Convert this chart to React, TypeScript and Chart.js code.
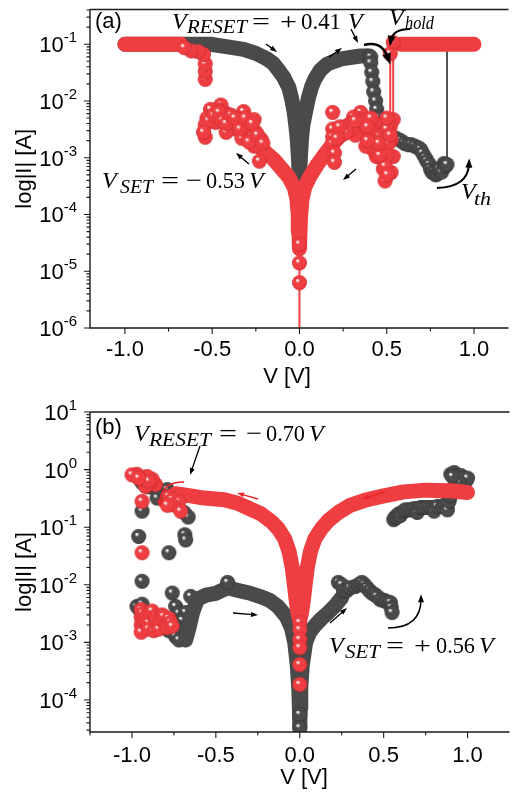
import React, { useEffect, useRef } from "react";
import { Chart, registerables } from "chart.js";
Chart.register(...registerables);

// ================= Panel (a) data (V in volts, I in amperes) =================
const aGrayBandV = [-1.0, -0.85, -0.7, -0.6, -0.51, -0.42, -0.32, -0.25, -0.19, -0.15, -0.12, -0.09, -0.06, -0.045, -0.03, -0.02, -0.012, -0.006, -0.002, 0, 0.002, 0.006, 0.012, 0.02, 0.034, 0.05, 0.07, 0.09, 0.12, 0.16, 0.2, 0.24, 0.3, 0.35, 0.39];
const aGrayBandI = [1.0e-1, 1.0e-1, 1.0e-1, 1.0e-1, 1.0e-1, 9.1e-2, 8.1e-2, 6.9e-2, 5.6e-2, 4.6e-2, 3.5e-2, 2.6e-2, 1.7e-2, 1.1e-2, 6.3e-3, 3.5e-3, 2.0e-3, 1.0e-3, 5.6e-4, 3.7e-4, 5.6e-4, 1.1e-3, 2.2e-3, 3.8e-3, 6.3e-3, 1.1e-2, 1.8e-2, 2.5e-2, 3.5e-2, 4.5e-2, 5.0e-2, 5.5e-2, 5.9e-2, 6.2e-2, 6.2e-2];
const aGrayResetV = [0.40, 0.408, 0.408, 0.414, 0.42, 0.425, 0.436, 0.442, 0.453, 0.464, 0.47, 0.48, 0.49, 0.50, 0.51, 0.52, 0.535, 0.554, 0.58, 0.60, 0.62, 0.64, 0.66, 0.68, 0.694, 0.705, 0.72, 0.73, 0.744, 0.75, 0.76, 0.77, 0.78, 0.79, 0.80, 0.815, 0.828, 0.835, 0.845];
const aGrayResetI = [6.2e-2, 5.9e-2, 4.7e-2, 3.2e-2, 2.2e-2, 1.45e-2, 1.0e-2, 7.1e-3, 5.1e-3, 3.5e-3, 3.2e-3, 2.8e-3, 2.6e-3, 2.4e-3, 2.3e-3, 2.1e-3, 2.2e-3, 2.2e-3, 2.0e-3, 1.8e-3, 1.7e-3, 1.7e-3, 1.6e-3, 1.5e-3, 1.4e-3, 1.2e-3, 1.0e-3, 8.7e-4, 7.6e-4, 6.3e-4, 5.5e-4, 5.6e-4, 5.0e-4, 5.2e-4, 6.3e-4, 5.6e-4, 7.9e-4, 7.1e-4, 7.6e-4];
const aGrayJumpV = [0.845, 0.845, 1.0];
const aGrayJumpI = [7.6e-4, 1.0e-1, 1.0e-1];

const aRedHoldBandV = [1.0, 0.8, 0.58];
const aRedHoldBandI = [1.0e-1, 1.0e-1, 1.0e-1];
const aRedHoldV = [0.537, 0.52];
const aRedHoldI = [1.07e-1, 6.8e-2];
const aRedDrop1V = [0.537, 0.537];
const aRedDrop1I = [1.0e-1, 5.0e-3];
const aRedDrop2V = [0.52, 0.52];
const aRedDrop2I = [6.8e-2, 4.0e-3];
const aRedHrsV = [0.537, 0.52, 0.525, 0.537, 0.525, 0.49, 0.48, 0.47, 0.44, 0.42, 0.40, 0.38, 0.37, 0.35, 0.33, 0.31, 0.29, 0.26, 0.24, 0.21, 0.19, 0.19, 0.19, 0.19, 0.2, 0.2, 0.25, 0.28, 0.45, 0.46, 0.5, 0.5, 0.36, 0.34, 0.32, 0.3, 0.27, 0.43, 0.41, 0.51, 0.5, 0.49, 0.505, 0.46, 0.455, 0.39, 0.36, 0.32, 0.23, 0.215, 0.52, 0.41, 0.39];
const aRedHrsI = [4.7e-3, 3.5e-3, 2.0e-3, 1.05e-3, 5.5e-4, 3.9e-4, 6.3e-4, 1.0e-3, 1.05e-3, 1.4e-3, 2.5e-3, 1.6e-3, 3.5e-3, 6.3e-3, 5.0e-3, 5.2e-3, 4.0e-3, 3.5e-3, 3.2e-3, 2.8e-3, 6.3e-3, 3.2e-3, 2.3e-3, 1.8e-3, 1.2e-3, 8.3e-4, 2.6e-3, 3.5e-3, 2.5e-3, 1.6e-3, 3.2e-3, 5.0e-3, 2.8e-3, 3.5e-3, 2.5e-3, 3.2e-3, 2.8e-3, 4.0e-3, 3.2e-3, 1.8e-3, 1.1e-3, 7.1e-4, 5.0e-4, 1.1e-3, 1.8e-3, 2.0e-3, 4.5e-3, 4.5e-3, 3.5e-3, 2.2e-3, 2.5e-3, 5.0e-3, 3.5e-3];
const aRedBandV = [0.3, 0.25, 0.2, 0.15, 0.1, 0.06, 0.03, 0.015, 0.007, 0.003, 0.001, -0.001, -0.003, -0.007, -0.015, -0.03, -0.06, -0.1, -0.15, -0.2, -0.24];
const aRedBandI = [4.0e-3, 2.8e-3, 1.9e-3, 1.2e-3, 7.4e-4, 4.7e-4, 3.0e-4, 1.9e-4, 1.0e-4, 5.0e-5, 2.5e-5, 2.5e-5, 5.0e-5, 1.0e-4, 1.9e-4, 3.0e-4, 4.5e-4, 6.3e-4, 9.5e-4, 1.3e-3, 1.7e-3];
const aRedDipV = [0, 0, 0, 0];
const aRedDipI = [3.0e-5, 1.4e-5, 6.3e-6, 1.0e-7];
const aRedNegV = [-0.23, -0.26, -0.22, -0.25, -0.28, -0.26, -0.3, -0.32, -0.35, -0.38, -0.40, -0.41, -0.43, -0.45, -0.47, -0.5, -0.51, -0.53, -0.54, -0.54, -0.36, -0.33, -0.44, -0.48, -0.42, -0.29, -0.52, -0.49, -0.46, -0.44, -0.42, -0.39, -0.37, -0.34, -0.31, -0.27, -0.24, -0.21, -0.55];
const aRedNegI = [8.7e-4, 1.6e-3, 2.1e-3, 2.8e-3, 2.5e-3, 4.7e-3, 3.5e-3, 6.5e-3, 4.7e-3, 4.0e-3, 3.2e-3, 5.8e-3, 6.3e-3, 8.5e-3, 7.1e-3, 6.3e-3, 7.1e-3, 5.0e-3, 3.8e-3, 2.3e-3, 3.2e-3, 2.2e-3, 4.5e-3, 4.2e-3, 2.8e-3, 1.9e-3, 4.5e-3, 5.6e-3, 6.3e-3, 4.5e-3, 4.0e-3, 5.6e-3, 5.0e-3, 3.2e-3, 5.0e-3, 4.0e-3, 2.5e-3, 1.8e-3, 2.8e-3];
const aRedSetV = [-0.54, -0.54, -0.54, -0.55, -0.58, -0.62, -0.66];
const aRedSetI = [2.4e-2, 3.3e-2, 4.5e-2, 6.6e-2, 7.4e-2, 7.6e-2, 8.7e-2];
const aRedCompV = [-0.68, -0.85, -1.0];
const aRedCompI = [1.0e-1, 1.0e-1, 1.0e-1];

// ================= Panel (b) data =================
const bGrayBandV = [-0.68, -0.66, -0.64, -0.61, -0.56, -0.5, -0.43, -0.36, -0.3, -0.24, -0.18, -0.13, -0.08, -0.05, -0.03, -0.015, -0.006, -0.002, 0, 0.002, 0.006, 0.015, 0.035, 0.06, 0.093, 0.13, 0.17, 0.21, 0.25];
const bGrayBandI = [1.1e-3, 1.8e-3, 3.2e-3, 5.6e-3, 6.6e-3, 7.1e-3, 8.9e-3, 7.9e-3, 7.2e-3, 6.3e-3, 5.4e-3, 4.2e-3, 2.8e-3, 1.8e-3, 1.0e-3, 4.0e-4, 1.6e-4, 7.1e-5, 3.3e-5, 7.1e-5, 1.6e-4, 4.0e-4, 1.0e-3, 1.5e-3, 2.0e-3, 2.6e-3, 3.3e-3, 4.3e-3, 6.0e-3];
const bGrayDipV = [0, 0];
const bGrayDipI = [5.6e-5, 3.3e-5];
const bGrayHrsV = [-0.43, 0.23, 0.25, 0.26, 0.28, 0.3, 0.33, 0.35, 0.37, 0.385, 0.4, 0.415, 0.43, 0.445, 0.46, 0.48, 0.5, 0.51, 0.525, 0.54, 0.545, 0.55];
const bGrayHrsI = [1.1e-2, 1.1e-2, 1.0e-2, 7.9e-3, 7.9e-3, 8.9e-3, 9.3e-3, 1.0e-2, 1.1e-2, 1.0e-2, 8.9e-3, 7.9e-3, 7.2e-3, 6.8e-3, 6.3e-3, 5.5e-3, 5.4e-3, 5.2e-3, 5.0e-3, 4.9e-3, 4.0e-3, 3.3e-3];
const bGrayLrsV = [0.56, 0.57, 0.58, 0.59, 0.6, 0.6, 0.62, 0.63, 0.65, 0.67, 0.68, 0.7, 0.7, 0.72, 0.74, 0.76, 0.78, 0.8, 0.8, 0.82, 0.85, 0.87, 0.88, 0.89, 0.9, 0.92, 0.9, 0.92, 0.93, 0.96, 0.97, 0.99, 1.0, 0.95, 0.91];
const bGrayLrsI = [1.35e-1, 1.5e-1, 1.5e-1, 1.7e-1, 1.7e-1, 1.6e-1, 1.9e-1, 2.0e-1, 2.0e-1, 2.0e-1, 2.1e-1, 2.1e-1, 1.8e-1, 2.2e-1, 2.2e-1, 2.2e-1, 2.2e-1, 2.2e-1, 1.9e-1, 2.3e-1, 2.3e-1, 2.5e-1, 2.0e-1, 2.8e-1, 3.5e-1, 5.0e-1, 8.3e-1, 8.9e-1, 7.9e-1, 7.9e-1, 7.1e-1, 6.3e-1, 7.1e-1, 6.0e-1, 7.6e-1];
const bGrayNegV = [-0.96, -0.94, -0.9, -0.86, -0.79, -0.81, -0.85, -0.94, -0.69, -0.665, -0.685, -0.68, -0.96, -0.78, -0.94, -0.76];
const bGrayNegI = [7.2e-1, 5.9e-1, 5.0e-1, 4.7e-1, 4.5e-1, 3.4e-1, 3.2e-1, 1.9e-1, 1.8e-1, 1.5e-1, 7.4e-2, 6.0e-2, 6.9e-2, 3.6e-2, 1.15e-2, 7.2e-3];
const bGrayLowV = [-0.97, -0.94, -0.95, -0.93, -0.9, -0.74, -0.72, -0.68, -0.65, -0.7, -0.71, -0.69, -0.75, -0.78, -0.8, -0.74, -0.72];
const bGrayLowI = [4.2e-3, 4.6e-3, 3.5e-3, 2.5e-3, 2.2e-3, 4.2e-3, 3.2e-3, 3.3e-3, 6.3e-3, 2.4e-3, 1.7e-3, 1.3e-3, 2.0e-3, 1.6e-3, 1.8e-3, 1.26e-3, 1.1e-3];

const bRedBandV = [1.0, 0.9, 0.75, 0.62, 0.5, 0.4, 0.3, 0.23, 0.17, 0.13, 0.09, 0.064, 0.045, 0.032, 0.02, 0.01, 0, -0.01, -0.02, -0.032, -0.045, -0.064, -0.09, -0.13, -0.17, -0.23, -0.3, -0.37, -0.45, -0.57, -0.65, -0.74];
const bRedBandI = [4.0e-1, 4.3e-1, 4.4e-1, 4.1e-1, 3.5e-1, 3.0e-1, 2.4e-1, 1.8e-1, 1.3e-1, 9.5e-2, 6.3e-2, 3.8e-2, 2.0e-2, 1.0e-2, 5.0e-3, 3.2e-3, 2.5e-3, 3.2e-3, 5.0e-3, 1.0e-2, 2.0e-2, 3.8e-2, 6.3e-2, 9.5e-2, 1.26e-1, 1.7e-1, 2.1e-1, 2.6e-1, 3.0e-1, 3.2e-1, 3.5e-1, 3.8e-1];
const bRedResetV = [-0.78, -0.76, -0.72, -0.76, -0.71, -0.79, -0.86, -0.89, -0.92, -0.88, -0.91, -0.94, -0.97, -1.0, -0.94, -0.94, -0.9, -0.96];
const bRedResetI = [3.4e-1, 3.0e-1, 2.75e-1, 2.45e-1, 1.9e-1, 2.4e-1, 5.5e-1, 5.8e-1, 5.1e-1, 6.8e-1, 7.6e-1, 6.8e-1, 8.3e-1, 8.1e-1, 2.8e-1, 3.6e-2, 6.3e-1, 7.1e-1];
const bRedLowV = [-0.945, -0.945, -0.945, -0.945, -0.935, -0.93, -0.92, -0.91, -0.9, -0.9, -0.89, -0.88, -0.87, -0.86, -0.85, -0.85, -0.84, -0.83, -0.82, -0.81, -0.8, -0.79, -0.78, -0.77, -0.76];
const bRedLowI = [3.7e-3, 2.7e-3, 2.0e-3, 1.5e-3, 3.2e-3, 2.4e-3, 2.4e-3, 3.0e-3, 2.2e-3, 1.7e-3, 3.2e-3, 3.5e-3, 1.6e-3, 2.8e-3, 2.0e-3, 2.5e-3, 1.7e-3, 2.5e-3, 3.0e-3, 2.8e-3, 2.0e-3, 1.8e-3, 2.6e-3, 2.2e-3, 1.9e-3];
const bRedDipV = [0, 0, 0, 0, 0, 0];
const bRedDipI = [2.2e-3, 1.66e-3, 1.12e-3, 8.1e-4, 4.1e-4, 1.86e-4];

// ================= Axes / ticks =================
const xMajor = [-1.0, -0.5, 0, 0.5, 1.0];
const xLabels = ["-1.0", "-0.5", "0.0", "0.5", "1.0"];
const xMinorA = [-0.75, -0.25, 0.25, 0.75];
const xMinorB = [-1.25, -0.75, -0.25, 0.25, 0.75];
const yMajorA = [1e-6, 1e-5, 1e-4, 1e-3, 1e-2, 1e-1];
const yExpA = ["-6", "-5", "-4", "-3", "-2", "-1"];
const yMajorB = [1e-4, 1e-3, 1e-2, 1e-1, 1e0, 1e1];
const yExpB = ["-4", "-3", "-2", "-1", "0", "1"];

const GRAY = "#4a4a4a";
const RED = "#ef3e42";
const RED_ARROW = "#e8262b";
const SANS = '"Liberation Sans", Arial, sans-serif';
const SERIF = '"Liberation Serif", "Times New Roman", serif';
const BALL_R = 7.5;

const pts = (V: number[], I: number[]) => V.map((v, i) => ({ x: v, y: I[i] }));

function makeSphere(base: string, dark: string, r: number) {
  const s = Math.ceil(2 * r + 2);
  const c = document.createElement("canvas");
  c.width = s;
  c.height = s;
  const g = c.getContext("2d")!;
  const cx = s / 2, cy = s / 2;
  const grad = g.createRadialGradient(cx - r * 0.3, cy - r * 0.35, 0, cx, cy, r);
  grad.addColorStop(0, "rgba(255,255,255,1)");
  grad.addColorStop(0.1, "rgba(245,245,245,0.95)");
  grad.addColorStop(0.3, base);
  grad.addColorStop(0.85, base);
  grad.addColorStop(1, dark);
  g.fillStyle = grad;
  g.beginPath();
  g.arc(cx, cy, r, 0, Math.PI * 2);
  g.fill();
  return c;
}

function band(data: any[], color: string, order: number) {
  return {
    data, showLine: true, borderColor: color, backgroundColor: color, borderWidth: 15,
    borderCapStyle: "round", borderJoinStyle: "round", pointRadius: 0, tension: 0, order,
  };
}
function balls(data: any[], img: HTMLCanvasElement, order: number) {
  return { data, showLine: false, pointStyle: img, pointRadius: BALL_R, order };
}
function thin(data: any[], color: string, order: number, img?: HTMLCanvasElement) {
  return {
    data, showLine: true, borderColor: color, borderWidth: 2, tension: 0, order,
    pointRadius: img ? BALL_R : 0, pointStyle: img || "circle",
  };
}

function head(ctx: CanvasRenderingContext2D, x: number, y: number, ang: number, L: number, W: number) {
  ctx.beginPath();
  ctx.moveTo(x, y);
  ctx.lineTo(x - L * Math.cos(ang) + (W / 2) * Math.sin(ang), y - L * Math.sin(ang) - (W / 2) * Math.cos(ang));
  ctx.lineTo(x - L * Math.cos(ang) - (W / 2) * Math.sin(ang), y - L * Math.sin(ang) + (W / 2) * Math.cos(ang));
  ctx.closePath();
  ctx.fill();
}
function arrow(ctx: CanvasRenderingContext2D, x1: number, y1: number, x2: number, y2: number, color: string, lw = 1.3, L = 7, W = 5) {
  const ang = Math.atan2(y2 - y1, x2 - x1);
  ctx.strokeStyle = color; ctx.fillStyle = color; ctx.lineWidth = lw;
  ctx.beginPath();
  ctx.moveTo(x1, y1);
  ctx.lineTo(x2 - L * 0.7 * Math.cos(ang), y2 - L * 0.7 * Math.sin(ang));
  ctx.stroke();
  head(ctx, x2, y2, ang, L, W);
}
function curve(ctx: CanvasRenderingContext2D, x1: number, y1: number, cx: number, cy: number, x2: number, y2: number, color: string, lw: number, L: number, W: number) {
  ctx.strokeStyle = color; ctx.fillStyle = color; ctx.lineWidth = lw;
  ctx.beginPath();
  ctx.moveTo(x1, y1);
  ctx.quadraticCurveTo(cx, cy, x2, y2);
  ctx.stroke();
  const ang = Math.atan2(y2 - cy, x2 - cx);
  head(ctx, x2 + L * 0.6 * Math.cos(ang), y2 + L * 0.6 * Math.sin(ang), ang, L, W);
}
function put(ctx: CanvasRenderingContext2D, text: string, x: number, y: number, font: string, w?: number) {
  ctx.font = font;
  if (w) {
    const m = ctx.measureText(text).width;
    ctx.save(); ctx.translate(x, y); ctx.scale(w / m, 1); ctx.fillText(text, 0, 0); ctx.restore();
  } else ctx.fillText(text, x, y);
}

const IT = `italic 24px ${SERIF}`;
const RM = `24px ${SERIF}`;
const SUB = `italic 18px ${SERIF}`;

type Panel = {
  offY: number; xMinor: number[]; yMajor: number[]; yExp: string[];
  xLabelDy: number; xTitleX: number; xTitleDy: number; annotate: (ctx: CanvasRenderingContext2D) => void;
};

function decoPlugin(p: Panel) {
  return {
    id: "deco",
    afterDatasetsDraw(chart: any) {
      const ctx: CanvasRenderingContext2D = chart.ctx;
      const { left, right, top, bottom } = chart.chartArea;
      const xs = chart.scales.x, ys = chart.scales.y;
      ctx.save();
      ctx.strokeStyle = "#1a1a1a";
      ctx.fillStyle = "#000";
      ctx.lineWidth = 1.4;
      ctx.beginPath();
      ctx.moveTo(left, top); ctx.lineTo(right + 2, top);
      ctx.moveTo(left, top); ctx.lineTo(left, bottom); ctx.lineTo(right + 2, bottom);
      ctx.stroke();
      ctx.lineWidth = 1.1;
      ctx.beginPath();
      xMajor.forEach((v) => { const x = xs.getPixelForValue(v); ctx.moveTo(x, bottom); ctx.lineTo(x, bottom + 6); });
      p.xMinor.forEach((v) => { const x = xs.getPixelForValue(v); ctx.moveTo(x, bottom); ctx.lineTo(x, bottom + 3.5); });
      const lo = ys.min, hi = ys.max;
      p.yMajor.forEach((v) => {
        const y = ys.getPixelForValue(v); ctx.moveTo(left, y); ctx.lineTo(left - 6, y);
        for (let m = 2; m <= 9; m++) {
          const mv = v * m;
          if (mv >= lo && mv <= hi) { const yy = ys.getPixelForValue(mv); ctx.moveTo(left, yy); ctx.lineTo(left - 3.5, yy); }
        }
      });
      for (let m = 2; m <= 9; m++) {
        const mv = (p.yMajor[0] / 10) * m;
        if (mv >= lo && mv <= hi) { const yy = ys.getPixelForValue(mv); ctx.moveTo(left, yy); ctx.lineTo(left - 3.5, yy); }
      }
      ctx.stroke();
      ctx.font = `22px ${SANS}`;
      ctx.textAlign = "center";
      ctx.textBaseline = "alphabetic";
      xMajor.forEach((v, i) => ctx.fillText(xLabels[i], xs.getPixelForValue(v), bottom + p.xLabelDy));
      ctx.textAlign = "right";
      p.yMajor.forEach((v, i) => {
        const y = ys.getPixelForValue(v);
        ctx.font = `15px ${SANS}`;
        const ew = ctx.measureText(p.yExp[i]).width;
        ctx.fillText(p.yExp[i], 77, y - 2);
        ctx.font = `22px ${SANS}`;
        ctx.fillText("10", 77 - ew, y + 8);
      });
      ctx.textAlign = "center";
      ctx.font = `22px ${SANS}`;
      ctx.fillText("V [V]", p.xTitleX, bottom + p.xTitleDy);
      ctx.save();
      ctx.translate(31, (top + bottom) / 2);
      ctx.rotate(-Math.PI / 2);
      ctx.fillText("log|I| [A]", 0, 0);
      ctx.restore();
      ctx.translate(0, -p.offY);
      ctx.textAlign = "left";
      p.annotate(ctx);
      ctx.restore();
    },
  };
}

function annotateA(ctx: CanvasRenderingContext2D) {
  ctx.fillStyle = "#000";
  put(ctx, "(a)", 95, 28, `22px ${SANS}`);
  put(ctx, "V", 172, 29, IT);
  put(ctx, "RESET", 187, 33, SUB, 60);
  put(ctx, "=", 252, 29, RM, 18);
  put(ctx, "+", 280, 29, RM, 17);
  put(ctx, "0.41", 301, 29, RM, 40);
  put(ctx, "V", 348, 29, IT);
  put(ctx, "V", 389, 25, IT);
  put(ctx, "hold", 405, 29, SUB, 29);
  put(ctx, "V", 102, 188, IT);
  put(ctx, "SET", 120, 193, SUB, 33);
  put(ctx, "=", 161, 188, RM, 18);
  put(ctx, "\u2212", 186, 188, RM, 16);
  put(ctx, "0.53", 206, 188, RM, 39);
  put(ctx, "V", 249, 188, IT);
  put(ctx, "V", 461, 199, IT);
  put(ctx, "th", 474, 205, SUB, 17);
  arrow(ctx, 266, 44, 277, 52, "#000");
  arrow(ctx, 329, 57, 342, 48, "#000");
  arrow(ctx, 351, 29, 358, 43, "#000");
  curve(ctx, 364, 45, 382, 40, 388, 58, "#000", 2.4, 11, 9);
  curve(ctx, 410, 29, 393, 29, 391, 40, "#000", 2.2, 10, 8);
  arrow(ctx, 249, 164, 236, 153, "#000");
  arrow(ctx, 356, 169, 343, 180, "#000");
  curve(ctx, 437, 188, 468, 187, 469, 164, "#000", 2, 9, 7);
}

function annotateB(ctx: CanvasRenderingContext2D) {
  ctx.fillStyle = "#000";
  put(ctx, "(b)", 95, 434, `22px ${SANS}`);
  put(ctx, "V", 134, 441, IT);
  put(ctx, "RESET", 149, 446, SUB, 62);
  put(ctx, "=", 219, 441, RM, 18);
  put(ctx, "\u2212", 246, 441, RM, 16);
  put(ctx, "0.70", 266, 441, RM, 39);
  put(ctx, "V", 309, 441, IT);
  put(ctx, "V", 329, 653, IT);
  put(ctx, "SET", 345, 658, SUB, 35);
  put(ctx, "=", 386, 653, RM, 18);
  put(ctx, "+", 414, 653, RM, 17);
  put(ctx, "0.56", 436, 653, RM, 39);
  put(ctx, "V", 479, 653, IT);
  arrow(ctx, 200, 446, 190, 475, "#000");
  curve(ctx, 184, 482, 160, 482, 160, 503, RED_ARROW, 1.5, 8, 6);
  arrow(ctx, 258, 499, 237, 493, RED_ARROW, 1.5);
  arrow(ctx, 385, 492, 362, 499, RED_ARROW, 1.5);
  arrow(ctx, 233, 613, 258, 615, "#000");
  arrow(ctx, 330, 623, 347, 608, "#000");
  curve(ctx, 388, 628, 421, 628, 421, 599, "#000", 1.5, 8, 6);
}

function baseOptions(xmin: number, xmax: number, ymin: number, ymax: number, pad: any) {
  return {
    responsive: false, animation: false as const, devicePixelRatio: 1, events: [] as any[],
    layout: { padding: pad },
    plugins: { legend: { display: false }, tooltip: { enabled: false } },
    scales: {
      x: { type: "linear" as const, min: xmin, max: xmax, display: false },
      y: { type: "logarithmic" as const, min: ymin, max: ymax, display: false },
    },
  };
}

export default function App() {
  const refA = useRef<HTMLCanvasElement>(null);
  const refB = useRef<HTMLCanvasElement>(null);
  useEffect(() => {
    const gBall = makeSphere(GRAY, "#2c2c2c", BALL_R);
    const rBall = makeSphere(RED, "#c8282c", BALL_R);
    const chartA = new Chart(refA.current!, {
      type: "scatter",
      data: {
        datasets: [
          band(pts(aGrayBandV, aGrayBandI), GRAY, 9),
          thin(pts(aGrayJumpV, aGrayJumpI), "#555555", 8),
          balls(pts(aGrayResetV, aGrayResetI), gBall, 7),
          band(pts(aRedHoldBandV, aRedHoldBandI), RED, 5),
          band(pts(aRedCompV, aRedCompI), RED, 5),
          band(pts(aRedBandV, aRedBandI), RED, 5),
          thin(pts(aRedDrop1V, aRedDrop1I), RED, 4),
          thin(pts(aRedDrop2V, aRedDrop2I), RED, 4),
          thin(pts(aRedDipV, aRedDipI), RED, 3, rBall),
          balls(pts(aRedHoldV, aRedHoldI), rBall, 2),
          balls(pts(aRedHrsV, aRedHrsI), rBall, 2),
          balls(pts(aRedNegV, aRedNegI), rBall, 2),
          balls(pts(aRedSetV, aRedSetI), rBall, 2),
        ] as any,
      },
      options: baseOptions(-1.2, 1.186, 1e-6, 0.4093, { left: 90, top: 7, right: 0, bottom: 69 }) as any,
      plugins: [decoPlugin({ offY: 0, xMinor: xMinorA, yMajor: yMajorA, yExp: yExpA, xLabelDy: 28, xTitleX: 287, xTitleDy: 55, annotate: annotateA })],
    });
    const chartB = new Chart(refB.current!, {
      type: "scatter",
      data: {
        datasets: [
          balls(pts(bGrayNegV, bGrayNegI), gBall, 9),
          balls(pts(bGrayLowV, bGrayLowI), gBall, 9),
          band(pts(bGrayBandV, bGrayBandI), GRAY, 8),
          balls(pts(bGrayDipV, bGrayDipI), gBall, 7),
          balls(pts(bGrayHrsV, bGrayHrsI), gBall, 7),
          balls(pts(bGrayLrsV, bGrayLrsI), gBall, 7),
          band(pts(bRedBandV, bRedBandI), RED, 5),
          balls(pts(bRedResetV, bRedResetI), rBall, 2),
          balls(pts(bRedLowV, bRedLowI), rBall, 2),
          balls(pts(bRedDipV, bRedDipI), rBall, 2),
        ] as any,
      },
      options: baseOptions(-1.25, 1.238, 2.78e-5, 10, { left: 90, top: 15, right: 0, bottom: 62 }) as any,
      plugins: [decoPlugin({ offY: 397, xMinor: xMinorB, yMajor: yMajorB, yExp: yExpB, xLabelDy: 30, xTitleX: 304, xTitleDy: 52, annotate: annotateB })],
    });
    return () => { chartA.destroy(); chartB.destroy(); };
  }, []);
  return (
    <div style={{ position: "absolute", left: 0, top: 0, width: 516, height: 794, background: "#fff", overflow: "hidden" }}>
      <canvas ref={refA} width={516} height={397} style={{ position: "absolute", left: 0, top: 0, width: 516, height: 397 }} />
      <canvas ref={refB} width={516} height={397} style={{ position: "absolute", left: 0, top: 397, width: 516, height: 397 }} />
    </div>
  );
}
